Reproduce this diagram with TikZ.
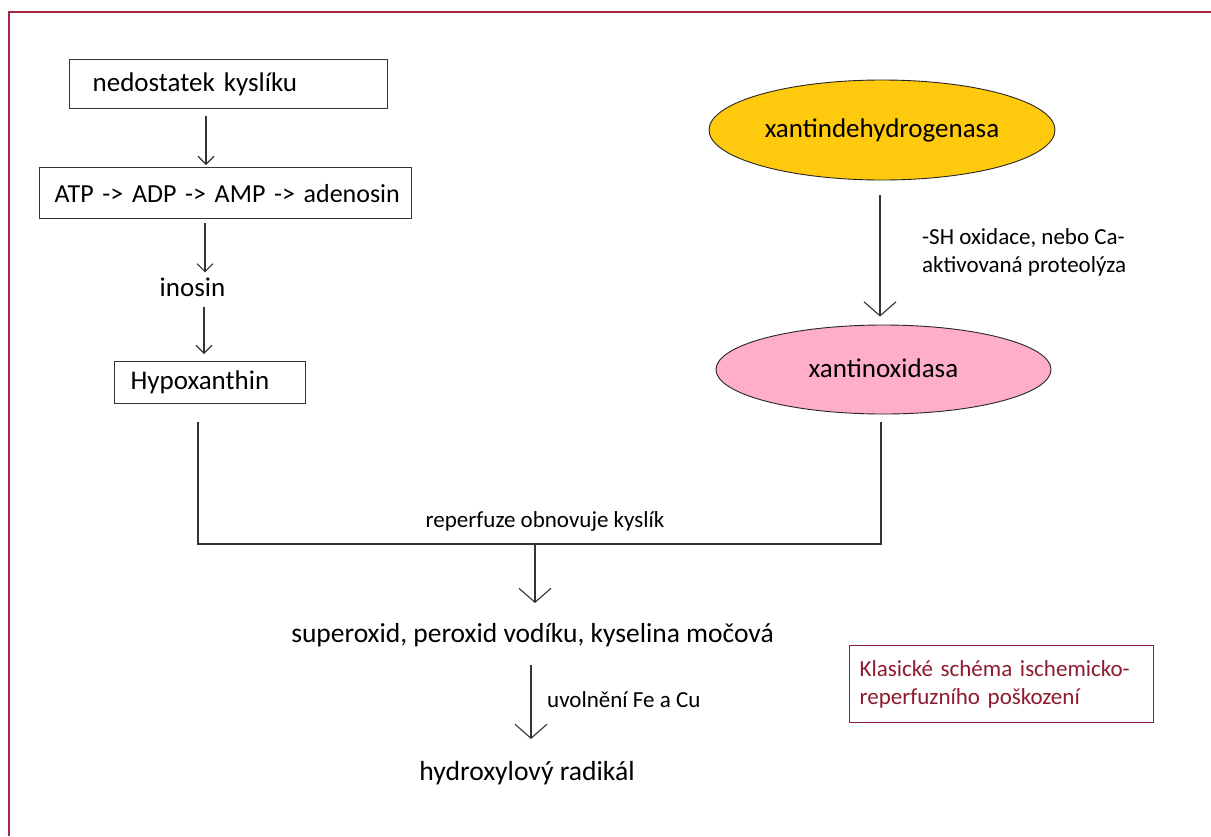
\documentclass[tikz,border=0pt]{standalone}
\usepackage{fontspec}
\setmainfont{Carlito}
\usetikzlibrary{arrows.meta,shapes.geometric,calc}
\definecolor{framered}{HTML}{A82842}
\definecolor{dred}{HTML}{8E1B30}
\definecolor{goldf}{HTML}{FFC90E}
\definecolor{pinkf}{HTML}{FFAEC9}
\definecolor{lineg}{HTML}{333333}
\begin{document}
\begin{tikzpicture}[x=1pt,y=-1pt,
  bigfont/.style={font=\fontsize{27}{32}\selectfont},
  smallfont/.style={font=\fontsize{23}{28}\selectfont},
  boxnode/.style={draw=lineg, line width=1.3pt, rectangle, inner ysep=0pt, align=left, anchor=north west, bigfont},
  plain/.style={inner sep=0pt, bigfont},
  ell/.style={ellipse, draw=black!85, line width=0.9pt, inner sep=0pt, bigfont},
  conn/.style={draw=lineg, line width=1.3pt},
  sarr/.style={conn, -{Straight Barb[length=8pt,width=16pt,line width=1.1pt]}},
  barr/.style={conn, -{Straight Barb[length=14pt,width=32pt,line width=1.1pt]}},
  lbl/.style={inner sep=0pt, smallfont, align=left, anchor=west}
]
\useasboundingbox (0,0) rectangle (1211,836);
\fill[white] (0,0) rectangle (1211,836);
% frame
\draw[framered, line width=1.6pt] (9,836) -- (9,12) -- (1211,12);

% left column
\node[boxnode, inner xsep=23pt, text width=272pt, minimum height=49pt] (n1) at (69,59) {nedostatek kyslíku};
\node[boxnode, inner xsep=15pt, text width=342pt, minimum height=51pt, font=\fontsize{26}{31}\selectfont] (n2) at (39,167) {\mbox{ATP -> ADP -> AMP -> adenosin}};
\node[plain] (inos) at (192.5,287) {inosin};
\node[boxnode, inner xsep=16pt, text width=159pt, minimum height=42pt] (hyp) at (114,361) {Hypoxanthin};

\coordinate (xa) at (206,0);
\coordinate (xb) at (205,0);
\coordinate (xc) at (204,0);
\draw[sarr, shorten <=7pt, shorten >=2pt] (n1.south -| xa) -- (n2.north -| xa);
\draw[sarr, shorten <=4pt, shorten >=5pt] (n2.south -| xb) -- (inos.north -| xb);
\draw[sarr, shorten <=10pt, shorten >=7pt] (inos.south -| xc) -- (hyp.north -| xc);

% right column
\node[ell, fill=goldf, minimum width=346pt, minimum height=100pt] (xdh) at (882,130) {xantindehydrogenasa};
\node[ell, fill=pinkf, minimum width=335pt, minimum height=89pt] (xo) at (883.5,369.5) {\raisebox{3pt}{xantinoxidasa}};
\coordinate (xr) at (880,0);
\draw[barr, shorten <=15pt, shorten >=8pt] (xdh.south -| xr) -- (xo.north -| xr);
\node[lbl] (shlab) at (922,252) {-SH oxidace, nebo Ca-\\aktivovaná proteolýza};

% junction
\coordinate (xl) at (198,0);
\coordinate (xrr) at (881,0);
\coordinate (jr) at (881,544);
\coordinate (jm) at (535,544);
\draw[conn, shorten <=18pt, shorten >=8pt] (hyp.south -| xl) |- (jr) -- (xo.south -| xrr);
\node[lbl, anchor=center] (rep) at (545,521) {reperfuze obnovuje kyslík};

% bottom
\node[plain, font=\fontsize{27.5}{32}\selectfont] (sup) at (532.5,635) {superoxid, peroxid vodíku, kyselina močová};
\node[plain, font=\fontsize{27.6}{32}\selectfont] (hyd) at (527,773) {hydroxylový radikál};
\draw[barr, shorten >=20pt] (jm) -- (sup.north -| jm);
\coordinate (xm) at (531,0);
\draw[barr, shorten <=18pt, shorten >=22pt] (sup.south -| xm) -- (hyd.north -| xm);
\node[lbl] (uvl) at (547,700) {uvolnění Fe a Cu};

% legend box
\node[draw=dred, line width=1.2pt, rectangle, anchor=north west, inner xsep=10pt, inner ysep=0pt, text width=284pt, minimum height=77pt, align=left, text=dred, smallfont] (leg) at (849,645) {Klasické schéma ischemicko-\\reperfuzního poškození};
\end{tikzpicture}
\end{document}
